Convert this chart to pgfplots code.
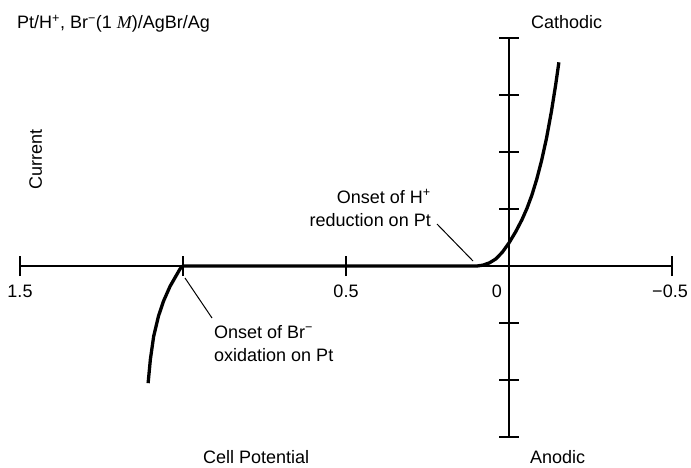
\documentclass[border=0pt]{standalone}
\usepackage{pgfplots}
\pgfplotsset{compat=1.18}
\usepackage{fontspec}
\setmainfont{Liberation Sans}
\newfontfamily\serif{Liberation Serif}
\begin{document}
\begin{tikzpicture}[x=1pt,y=1pt]
\path[use as bounding box] (0,0) rectangle (691,467);
\fontsize{18}{22}\selectfont
\begin{axis}[
  at={(509pt,201pt)}, anchor=origin,
  x=326pt, y=57pt,
  x dir=reverse,
  xmin=-0.5, xmax=1.5, ymin=-3, ymax=4,
  enlargelimits=false,
  axis lines=middle,
  axis line style={-, line width=1.4pt},
  hide obscured x ticks=false,
  hide obscured y ticks=false,
  xtick={1.5,1,0.5,-0.5},
  ytick={-3,-2,-1,1,2,3,4},
  xticklabels={}, yticklabels={},
  major tick length=20pt,
  tick align=center,
  every tick/.style={black, line width=1.4pt},
  clip=false,
]
\addplot[black, line width=3.3pt, line join=round, line cap=butt] coordinates {
  (1.107,-2.055) (1.1,-1.635) (1.09,-1.235) (1.075,-0.875) (1.06,-0.62) (1.04,-0.36)
  (1.02,-0.16) (1.01,-0.06) (1.005,-0.02) (1.0,0)
  (0.098,0) (0.08,0.015) (0.06,0.055) (0.04,0.125) (0.02,0.245) (0.0,0.405)
  (-0.02,0.595) (-0.04,0.815) (-0.055,1.01) (-0.07,1.24) (-0.085,1.52) (-0.10,1.85)
  (-0.115,2.24) (-0.13,2.705) (-0.143,3.173) (-0.153,3.573)
};
\end{axis}
% tick labels
\node[anchor=base] at (20,170) {1.5};
\node[anchor=base] at (346,170) {0.5};
\node[anchor=base] at (497,170) {0};
\node[anchor=base] at (670,170) {−0.5};
% titles
\node[anchor=base west, inner sep=0pt] at (17,438) {Pt/H\textsuperscript{+}, Br\textsuperscript{−}(1 {\serif\itshape M})/AgBr/Ag};
\node[anchor=base west, inner sep=0pt] at (531,438) {Cathodic};
\node[anchor=base west, inner sep=0pt] at (530,4) {Anodic};
\node[anchor=base west, inner sep=0pt] at (203,4) {Cell Potential};
\node[rotate=90, anchor=base, inner sep=0pt] at (42,308) {Current};
% annotations
\node[anchor=base east, inner sep=0pt] at (431,264) {Onset of H\textsuperscript{+}};
\node[anchor=base east, inner sep=0pt] at (431,241) {reduction on Pt};
\draw[line width=1pt] (437,243) -- (473,206);
\node[anchor=base west, inner sep=0pt] at (214,129) {Onset of Br\textsuperscript{−}};
\node[anchor=base west, inner sep=0pt] at (214,106) {oxidation on Pt};
\draw[line width=1pt] (185,189) -- (212,149);
\end{tikzpicture}
\end{document}
